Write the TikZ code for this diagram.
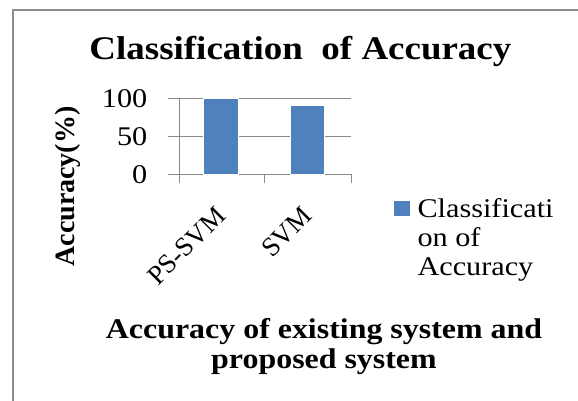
\documentclass[tikz,border=0pt]{standalone}
\usepackage{fontspec}
\setmainfont{Liberation Serif}[FakeStretch=1.12]
\newfontfamily\plainserif{Liberation Serif}
\usepackage{tikz}

\definecolor{barblue}{HTML}{4F81BD}
\definecolor{framegray}{HTML}{8C8C8C}
\definecolor{gridgray}{HTML}{888888}

\begin{document}
\begin{tikzpicture}
[x=1pt,y=-1pt
,frame/.style={draw=framegray,line width=2pt}
,grid/.style={draw=gridgray,line width=1pt}
,bar/.style={fill=barblue,draw=white,line width=0.6pt}
,ticklab/.style={anchor=east,inner sep=0pt,font=\fontsize{27}{30}\selectfont}
,catlab/.style={anchor=east,rotate=45,inner sep=0pt,font=\plainserif\fontsize{27}{30}\selectfont}
]
\useasboundingbox (0,0) rectangle (578,400);

% chart frame, cut off at the right and bottom
\draw[frame] (12.7,410) |- (590,9.5);

\node[anchor=base,inner sep=0pt,font=\bfseries\fontsize{33}{36}\selectfont]
  (title) at (300.4,59) {Classification\ \ of Accuracy};

% plot area: 0 at y=174.3, 100 at y=98.3
\coordinate (o) at (179.3,174.3);
\draw[grid] (168,98.3) -- (351,98.3);
\draw[grid] (168,136.3) -- (351,136.3);
\draw[grid] (168,174.3) -- (351,174.3);
\draw[grid] (179.3,98.3) -- (179.3,182.7);
\draw[grid] (264.3,174.3) -- (264.3,182.7);
\draw[grid] (351,174.3) -- (351,182.7);

\node[ticklab] (t100) at (147.5,98.3) {100};
\node[ticklab] (t50) at (147.5,136.3) {50};
\node[ticklab] (t0) at (147.5,174.3) {0};

\draw[bar] (203.3,174.3) rectangle (238.3,98.3);
\draw[bar] (290,174.3) rectangle (324.3,105.1);

\node[catlab] (pssvm) at (221,211) {PS-SVM};
\node[catlab] (svm) at (307.5,211) {SVM};

\node[rotate=90,inner sep=0pt,font=\plainserif\bfseries\fontsize{28}{30}\selectfont]
  (ytitle) at (68,186.5) {Accuracy(\%)};

% legend
\node[fill=barblue,inner sep=0pt,minimum size=15.5pt] (key) at (402,208.5) {};
\node[anchor=north west,inner sep=0pt,align=left,font=\fontsize{27}{29}\selectfont]
  (keytext) at (417.3,198.3) {Classificati\\on of\\Accuracy};

\node[anchor=north,inner sep=0pt,align=center,font=\bfseries\fontsize{28.5}{30}\selectfont]
  (xtitle) at (324,318.5) {Accuracy of existing system and\\proposed system};
\end{tikzpicture}
\end{document}
